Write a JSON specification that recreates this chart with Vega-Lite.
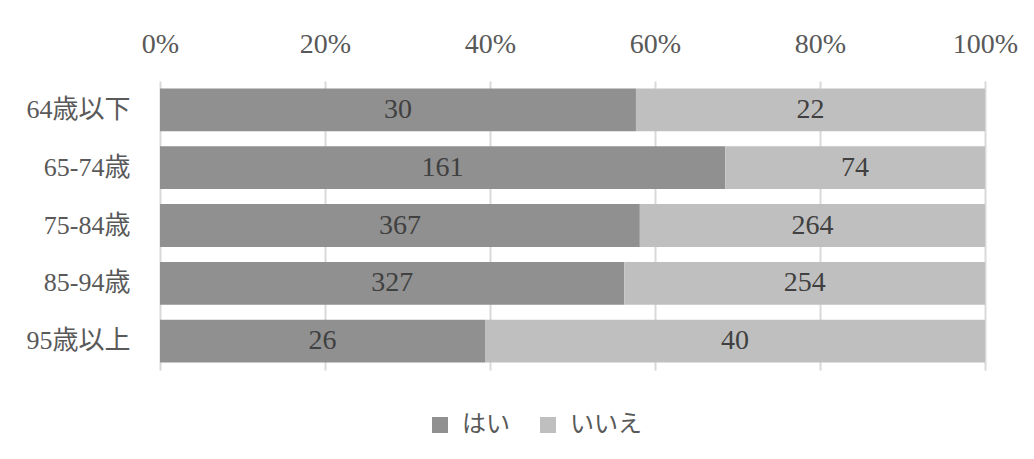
{
  "$schema": "https://vega.github.io/schema/vega-lite/v6.json",
  "autosize": "none",
  "padding": {"left": 160, "top": 81, "right": 49, "bottom": 89},
  "width": 825,
  "height": 289,
  "background": "white",
  "config": {
    "view": {"stroke": null},
    "font": "Liberation Serif, Noto Sans CJK JP"
  },
  "data": {
    "values": [
      {"age": "64歳以下", "answer": "はい", "order": 1, "count": 30},
      {"age": "64歳以下", "answer": "いいえ", "order": 2, "count": 22},
      {"age": "65-74歳", "answer": "はい", "order": 1, "count": 161},
      {"age": "65-74歳", "answer": "いいえ", "order": 2, "count": 74},
      {"age": "75-84歳", "answer": "はい", "order": 1, "count": 367},
      {"age": "75-84歳", "answer": "いいえ", "order": 2, "count": 264},
      {"age": "85-94歳", "answer": "はい", "order": 1, "count": 327},
      {"age": "85-94歳", "answer": "いいえ", "order": 2, "count": 254},
      {"age": "95歳以上", "answer": "はい", "order": 1, "count": 26},
      {"age": "95歳以上", "answer": "いいえ", "order": 2, "count": 40}
    ]
  },
  "transform": [
    {"stack": "count", "groupby": ["age"], "sort": [{"field": "order"}], "as": ["x0", "x1"], "offset": "normalize"},
    {"calculate": "(datum.x0 + datum.x1) / 2", "as": "xm"}
  ],
  "encoding": {
    "y": {
      "field": "age",
      "type": "nominal",
      "sort": ["64歳以下", "65-74歳", "75-84歳", "85-94歳", "95歳以上"],
      "scale": {"paddingInner": 0.26, "paddingOuter": 0.13},
      "axis": {
        "title": null,
        "domain": false,
        "ticks": false,
        "tickSize": 0,
        "labelPadding": 30,
        "labelFontSize": 26,
        "labelColor": "#595959",
        "labelFont": "Liberation Serif, Noto Sans CJK JP"
      }
    }
  },
  "layer": [
    {
      "mark": {"type": "bar"},
      "encoding": {
        "x": {
          "field": "x0",
          "type": "quantitative",
          "scale": {"domain": [0, 1], "nice": false},
          "axis": {
            "orient": "top",
            "format": ".0%",
            "values": [0, 0.2, 0.4, 0.6, 0.8, 1],
            "title": null,
            "domain": false,
            "ticks": false,
            "tickSize": 0,
            "labelFlush": false,
            "labelPadding": 29,
            "labelBaseline": "alphabetic",
            "labelFontSize": 28,
            "labelColor": "#595959",
            "gridColor": "#d9d9d9",
            "gridWidth": 2,
            "labelFont": "Liberation Serif"
          }
        },
        "x2": {"field": "x1"},
        "color": {
          "field": "answer",
          "type": "nominal",
          "sort": ["はい", "いいえ"],
          "scale": {"domain": ["はい", "いいえ"], "range": ["#909090", "#bfbfbf"]},
          "legend": {
            "title": null,
            "orient": "none",
            "legendX": 268,
            "legendY": 332,
            "direction": "horizontal",
            "symbolType": "square",
            "symbolSize": 256,
            "symbolStrokeWidth": 0,
            "symbolOpacity": 1,
            "labelFontSize": 24,
            "labelFont": "Noto Sans CJK JP",
            "labelColor": "#595959",
            "columnPadding": 26,
            "labelOffset": 10
          }
        }
      }
    },
    {
      "mark": {"type": "text", "fontSize": 28, "color": "#404040", "font": "Liberation Serif", "baseline": "middle"},
      "encoding": {
        "x": {"field": "xm", "type": "quantitative"},
        "text": {"field": "count", "type": "quantitative"}
      }
    }
  ]
}
